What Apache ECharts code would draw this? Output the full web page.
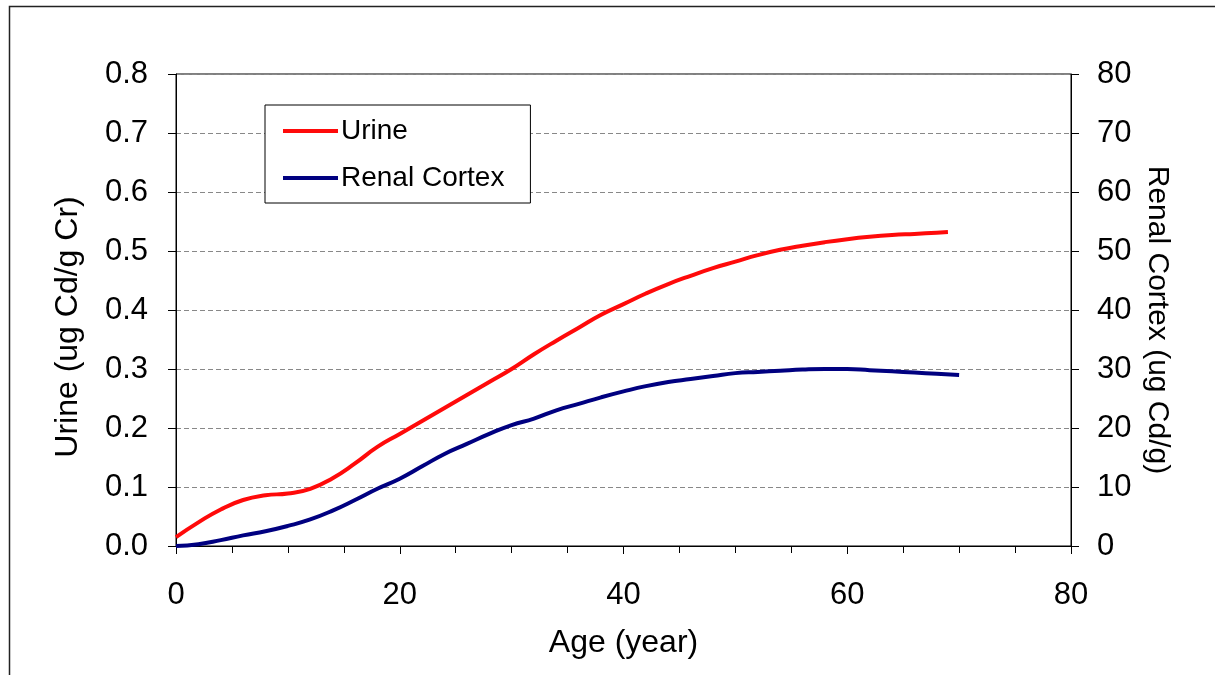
<!DOCTYPE html>
<html>
<head>
<meta charset="utf-8">
<script src="https://cdn.jsdelivr.net/npm/echarts@6/dist/echarts.min.js"></script>
<style>html,body{margin:0;padding:0;background:#fff;}#c{width:1215px;height:675px;}</style>
</head>
<body>
<div id="c"></div>
<script>
const urineAge = [0,2,4,6,8,10,12,14,16,18,20,22,24,26,28,30,32,34,36,38,40,42,44,46,48,50,52,54,56,58,60,62,64,66,68,69];
const urineVal = [0.015,0.04,0.062,0.078,0.086,0.089,0.097,0.115,0.14,0.168,0.19,0.212,0.234,0.256,0.278,0.3,0.325,0.348,0.37,0.392,0.41,0.428,0.444,0.458,0.471,0.482,0.493,0.502,0.509,0.515,0.52,0.524,0.527,0.529,0.531,0.532];
const cortexAge = [0,2,4,6,8,10,12,14,16,18,20,22,24,26,28,30,32,34,36,38,40,42,44,46,48,50,52,54,56,58,60,62,64,66,68,70];
const cortexVal = [0,0.3,1.0,1.8,2.5,3.4,4.5,6.0,7.8,9.7,11.4,13.5,15.6,17.3,19.0,20.5,21.6,23.0,24.1,25.2,26.2,27.1,27.8,28.3,28.8,29.3,29.5,29.7,29.9,30.0,30.0,29.8,29.6,29.4,29.2,29.0];
const seriesNames = ['Urine','Renal Cortex'];
const xTitle = 'Age (year)';
const yLeftTitle = 'Urine (ug Cd/g Cr)';
const yRightTitle = 'Renal Cortex (ug Cd/g)';

const chart = echarts.init(document.getElementById('c'));
const font = 'Liberation Sans, Arial, sans-serif';
chart.setOption({
  animation: false,
  backgroundColor: '#fff',
  graphic: [{type:'rect', shape:{x:9.5,y:6.5,width:1230,height:700}, style:{fill:'none',stroke:'#222',lineWidth:1.5}, z:100}],
  grid: {left:176, right:144, top:74, bottom:129, show:true, borderColor:'#000', borderWidth:1},
  legend: {
    orient:'vertical', left:265, top:105, itemWidth:55, itemHeight:4, itemGap:19,
    padding:[12,26,11,18], borderColor:'#000', borderWidth:1, backgroundColor:'#fff',
    textStyle:{fontFamily:font, fontSize:28, color:'#000', padding:[0,0,0,-2]},
    data:[{name:seriesNames[0], icon:'rect'},{name:seriesNames[1], icon:'rect'}]
  },
  xAxis: {
    type:'value', min:0, max:80, interval:20,
    name:xTitle, nameLocation:'middle', nameGap:81,
    nameTextStyle:{fontFamily:font, fontSize:32, color:'#000'},
    axisLine:{onZero:false, lineStyle:{color:'#000', width:1}},
    axisTick:{show:true, inside:false, length:8, lineStyle:{color:'#000'}},
    minorTick:{show:true, splitNumber:4, length:7, lineStyle:{color:'#000'}},
    axisLabel:{fontFamily:font, fontSize:31, color:'#000', margin:34},
    splitLine:{show:false}
  },
  yAxis: [{
    type:'value', min:0, max:0.8, interval:0.1, position:'left',
    name:yLeftTitle, nameLocation:'middle', nameGap:92, nameRotate:90,
    nameTextStyle:{fontFamily:font, fontSize:32, color:'#000', padding:[0,34,0,0]},
    axisLine:{show:true, lineStyle:{color:'#000', width:1}},
    axisTick:{show:true, inside:false, length:8, lineStyle:{color:'#000'}},
    axisLabel:{fontFamily:font, fontSize:31, color:'#000', margin:28, formatter:v=>v.toFixed(1)},
    splitLine:{show:true, lineStyle:{color:'#888', type:[5,3], width:1}}
  },{
    type:'value', min:0, max:80, interval:10, position:'right',
    name:yRightTitle, nameLocation:'middle', nameGap:71, nameRotate:-90,
    nameTextStyle:{fontFamily:font, fontSize:30, color:'#000', padding:[0,0,0,20]},
    axisLine:{show:true, lineStyle:{color:'#000', width:1}},
    axisTick:{show:true, inside:false, length:8, lineStyle:{color:'#000'}},
    axisLabel:{fontFamily:font, fontSize:31, color:'#000', margin:26},
    splitLine:{show:false}
  }],
  series: [{
    name:seriesNames[0], type:'line', yAxisIndex:0, smooth:true, showSymbol:false,
    color:'#ff0a0a', lineStyle:{width:4, color:'#ff0a0a'},
    data: urineAge.map((a,i)=>[a, urineVal[i]])
  },{
    name:seriesNames[1], type:'line', yAxisIndex:1, smooth:true, showSymbol:false,
    color:'#000080', lineStyle:{width:4, color:'#000080'},
    data: cortexAge.map((a,i)=>[a, cortexVal[i]])
  }]
});
</script>
</body>
</html>
